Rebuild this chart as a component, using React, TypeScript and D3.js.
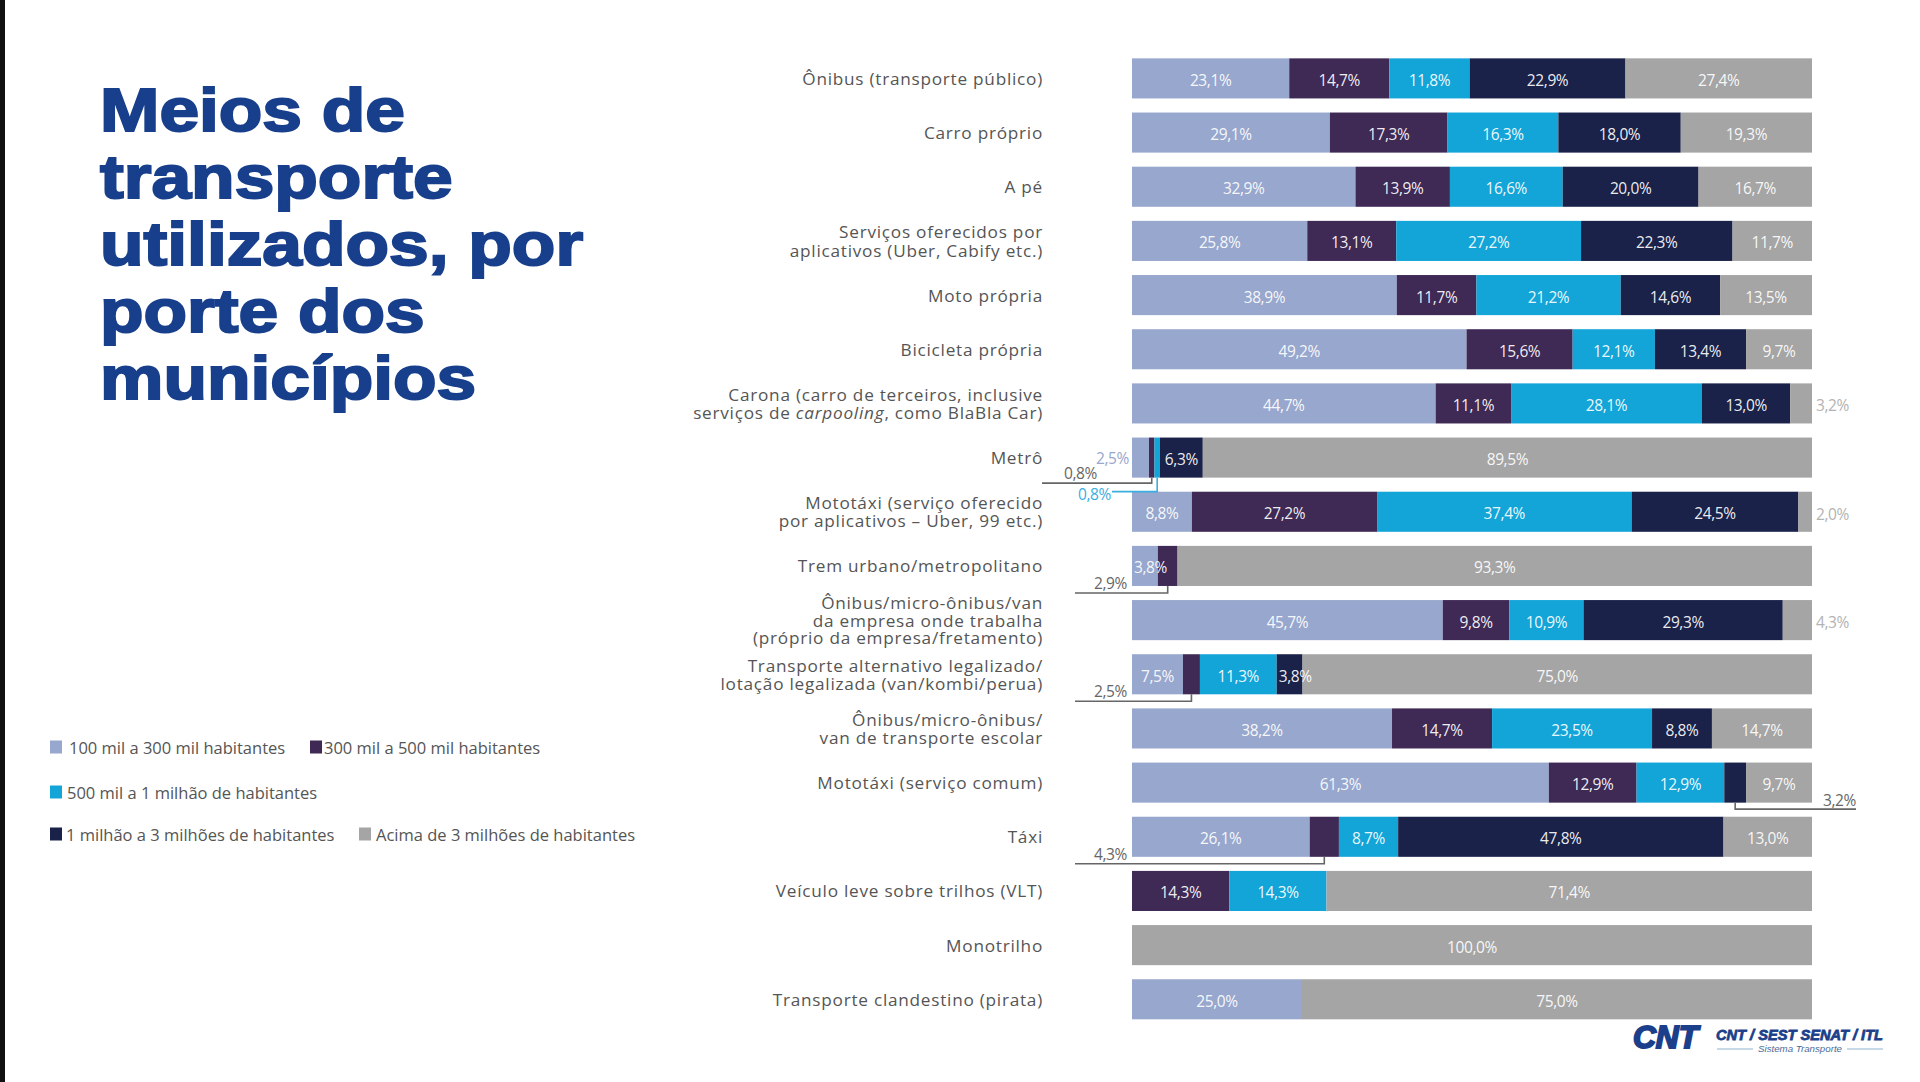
import React from "react";
import * as d3 from "d3";

const categories = [
  "Ônibus (transporte público)",
  "Carro próprio",
  "A pé",
  "Serviços oferecidos por aplicativos",
  "Moto própria",
  "Bicicleta própria",
  "Carona",
  "Metrô",
  "Mototáxi (aplicativos)",
  "Trem urbano/metropolitano",
  "Ônibus da empresa",
  "Transporte alternativo legalizado",
  "Ônibus escolar",
  "Mototáxi (serviço comum)",
  "Táxi",
  "VLT",
  "Monotrilho",
  "Transporte clandestino (pirata)",
];

const categoryLines: string[][] = [
  ["Ônibus (transporte público)"],
  ["Carro próprio"],
  ["A pé"],
  ["Serviços oferecidos por", "aplicativos (Uber, Cabify etc.)"],
  ["Moto própria"],
  ["Bicicleta própria"],
  ["Carona (carro de terceiros, inclusive", "serviços de *carpooling*, como BlaBla Car)"],
  ["Metrô"],
  ["Mototáxi (serviço oferecido", "por aplicativos – Uber, 99 etc.)"],
  ["Trem urbano/metropolitano"],
  ["Ônibus/micro-ônibus/van", "da empresa onde trabalha", "(próprio da empresa/fretamento)"],
  ["Transporte alternativo legalizado/", "lotação legalizada (van/kombi/perua)"],
  ["Ônibus/micro-ônibus/", "van de transporte escolar"],
  ["Mototáxi (serviço comum)"],
  ["Táxi"],
  ["Veículo leve sobre trilhos (VLT)"],
  ["Monotrilho"],
  ["Transporte clandestino (pirata)"],
];

const seriesNames = [
  "100 mil a 300 mil habitantes",
  "300 mil a 500 mil habitantes",
  "500 mil a 1 milhão de habitantes",
  "1 milhão a 3 milhões de habitantes",
  "Acima de 3 milhões de habitantes",
];
const seriesColors = ["#98a7cd", "#3f2a56", "#14a5d8", "#1b2249", "#a5a5a5"];

const s100a300 = [23.1, 29.1, 32.9, 25.8, 38.9, 49.2, 44.7, 2.5, 8.8, 3.8, 45.7, 7.5, 38.2, 61.3, 26.1, 0, 0, 25.0];
const s300a500 = [14.7, 17.3, 13.9, 13.1, 11.7, 15.6, 11.1, 0.8, 27.2, 2.9, 9.8, 2.5, 14.7, 12.9, 4.3, 14.3, 0, 0];
const s500a1m = [11.8, 16.3, 16.6, 27.2, 21.2, 12.1, 28.1, 0.8, 37.4, 0, 10.9, 11.3, 23.5, 12.9, 8.7, 14.3, 0, 0];
const s1ma3m = [22.9, 18.0, 20.0, 22.3, 14.6, 13.4, 13.0, 6.3, 24.5, 0, 29.3, 3.8, 8.8, 3.2, 47.8, 0, 0, 0];
const sAcima3m = [27.4, 19.3, 16.7, 11.7, 13.5, 9.7, 3.2, 89.5, 2.0, 93.3, 4.3, 75.0, 14.7, 9.7, 13.0, 71.4, 100.0, 75.0];

const seriesValues = [s100a300, s300a500, s500a1m, s1ma3m, sAcima3m];

// labels placed outside their segment
const outsideLabels = [
  { cat: "Carona", series: 4, kind: "end" },
  { cat: "Mototáxi (aplicativos)", series: 4, kind: "end" },
  { cat: "Ônibus da empresa", series: 4, kind: "end" },
  { cat: "Metrô", series: 0, kind: "before" },
  { cat: "Metrô", series: 1, kind: "leaderFar" },
  { cat: "Metrô", series: 2, kind: "leaderBelow" },
  { cat: "Trem urbano/metropolitano", series: 1, kind: "leader" },
  { cat: "Transporte alternativo legalizado", series: 1, kind: "leader" },
  { cat: "Táxi", series: 1, kind: "leader" },
  { cat: "Mototáxi (serviço comum)", series: 3, kind: "leaderRight" },
];

const titleLines = ["Meios de", "transporte", "utilizados, por", "porte dos", "municípios"];

const W = 1920;
const H = 1082;
const keys = ["k0", "k1", "k2", "k3", "k4"];
const fmt = (v: number) => d3.format(".1f")(v).replace(".", ",") + "%";
const LABEL_FONT = "'Open Sans', 'Noto Sans', sans-serif";

function renderLine(line: string) {
  const parts = line.split("*");
  return parts.map((p, i) => (
    <tspan key={i} fontStyle={i % 2 === 1 ? "italic" : "normal"}>
      {p}
    </tspan>
  ));
}

export default function App() {
  const rows = categories.map((c, i) => {
    const r: any = { cat: c };
    keys.forEach((k, j) => (r[k] = seriesValues[j][i]));
    return r;
  });
  const stacked = d3.stack<any>().keys(keys).offset(d3.stackOffsetExpand)(rows);

  const x = d3.scaleLinear().domain([0, 1]).range([1132, 1812]);
  const step = 54.17;
  const y = d3
    .scaleBand<string>()
    .domain(categories)
    .range([78.4 - step / 2, 78.4 - step / 2 + step * categories.length])
    .paddingInner(0.26)
    .paddingOuter(0.13);
  const bw = y.bandwidth();

  const isOutside = (cat: string, s: number) => outsideLabels.some((o) => o.cat === cat && o.series === s);

  const segs: JSX.Element[] = [];
  const labels: JSX.Element[] = [];
  stacked.forEach((layer, si) => {
    layer.forEach((d, ci) => {
      const cat = categories[ci];
      const v = seriesValues[si][ci];
      if (!v) return;
      const x0 = x(d[0]);
      const x1 = x(d[1]);
      const y0 = y(cat)!;
      segs.push(
        <rect key={`r${si}-${ci}`} x={x0} y={y0} width={Math.max(0, x1 - x0)} height={bw} fill={seriesColors[si]} />
      );
      if (isOutside(cat, si)) return;
      const txt = fmt(v);
      const tw = txt.length * 8.2;
      const fits = x1 - x0 >= tw + 2;
      labels.push(
        <text
          key={`t${si}-${ci}`}
          x={fits ? (x0 + x1) / 2 : x0 + 2}
          y={y0 + bw / 2 + 1.5}
          textAnchor={fits ? "middle" : "start"}
          dominantBaseline="central"
          fontFamily={LABEL_FONT}
          fontSize={15.5}
          letterSpacing={-0.4}
          fill="#ffffff"
          fillOpacity={0.93}
        >
          {txt}
        </text>
      );
    });
  });

  const callouts = outsideLabels.map((o, i) => {
    const ci = categories.indexOf(o.cat);
    const d = stacked[o.series][ci];
    const v = seriesValues[o.series][ci];
    const txt = fmt(v);
    const y0 = y(o.cat)!;
    const yc = y0 + bw / 2;
    const bottom = y0 + bw;
    const cx = (x(d[0]) + x(d[1])) / 2;
    const common = { fontFamily: LABEL_FONT, fontSize: 15.5, letterSpacing: -0.4 } as any;
    const grey = "#666666";
    if (o.kind === "end") {
      return (
        <text key={i} x={x(1) + 4} y={yc + 2} dominantBaseline="central" fill="#b3b3b3" {...common}>
          {txt}
        </text>
      );
    }
    if (o.kind === "before") {
      return (
        <text key={i} x={x(0) - 3} y={yc} textAnchor="end" dominantBaseline="central" fill={seriesColors[o.series]} {...common}>
          {txt}
        </text>
      );
    }
    if (o.kind === "leader" || o.kind === "leaderFar") {
      const far = o.kind === "leaderFar";
      const ly = bottom + (far ? 5.5 : 7);
      const lx = x(0) - (far ? 90 : 57);
      const tx = far ? x(0) - 35 : x(0) - 5;
      return (
        <g key={i}>
          <path d={`M${lx},${ly}H${cx}V${bottom}`} fill="none" stroke={grey} strokeWidth={1.6} />
          <text x={tx} y={ly - 10} textAnchor="end" dominantBaseline="central" fill={grey} {...common}>
            {txt}
          </text>
        </g>
      );
    }
    if (o.kind === "leaderBelow") {
      const ly = bottom + 14;
      const lx = x(0) - 20;
      const col = "#3aaedf";
      return (
        <g key={i}>
          <path d={`M${lx},${ly}H${cx}V${bottom}`} fill="none" stroke={col} strokeWidth={1.6} />
          <text x={lx - 1} y={ly + 2} textAnchor="end" dominantBaseline="central" fill={col} {...common}>
            {txt}
          </text>
        </g>
      );
    }
    // leaderRight
    const ly = bottom + 6.5;
    const ex = x(1) + 44;
    return (
      <g key={i}>
        <path d={`M${cx},${bottom}V${ly}H${ex}`} fill="none" stroke={grey} strokeWidth={1.6} />
        <text x={ex} y={ly - 9} textAnchor="end" dominantBaseline="central" fill={grey} {...common}>
          {txt}
        </text>
      </g>
    );
  });

  const catLabels = categories.map((c, i) => {
    const lines = categoryLines[i];
    const lh = lines.length > 2 ? 17.3 : 18.2;
    const yc = y(c)! + bw / 2;
    const start = yc - ((lines.length - 1) * lh) / 2;
    return (
      <text
        key={c}
        x={1043}
        textAnchor="end"
        fontFamily={LABEL_FONT}
        fontSize={17.2}
        letterSpacing={0.75}
        fill="#555555"
      >
        {lines.map((l, li) => (
          <tspan key={li} x={1043} y={start + li * lh} dominantBaseline="central">
            {renderLine(l)}
          </tspan>
        ))}
      </text>
    );
  });

  const legendLayout = [
    { s: 0, x: 50, y: 747, tx: 69 },
    { s: 1, x: 310, y: 747, tx: 324 },
    { s: 2, x: 50, y: 792, tx: 67 },
    { s: 3, x: 50, y: 834, tx: 66 },
    { s: 4, x: 359, y: 834, tx: 376 },
  ];

  return (
    <svg
      width={W}
      height={H}
      viewBox={`0 0 ${W} ${H}`}
      style={{ position: "absolute", left: 0, top: 0, background: "#ffffff" }}
    >
      <rect x={0} y={0} width={W} height={H} fill="#ffffff" />
      <rect x={0} y={0} width={5} height={H} fill="#111111" />

      {titleLines.map((t, i) => (
        <text
          key={i}
          transform={`translate(100,${131 + i * 67}) scale(1.15,1)`}
          fontFamily="'Liberation Sans', Arial, sans-serif"
          fontWeight={700}
          fontSize={62}
          fill="#183f8c"
          stroke="#183f8c"
          strokeWidth={2}
        >
          {t}
        </text>
      ))}

      {legendLayout.map((l) => (
        <g key={l.s}>
          <rect x={l.x} y={l.y - 6.5} width={12} height={13} fill={seriesColors[l.s]} />
          <text x={l.tx} y={l.y} dominantBaseline="central" fontFamily={LABEL_FONT} fontSize={16.5} fill="#555555">
            {seriesNames[l.s]}
          </text>
        </g>
      ))}

      {catLabels}
      <g>{segs}</g>
      <g>{labels}</g>
      <g>{callouts}</g>

      <g fill="#1b3f8a">
        <text
          x={1633}
          y={1048}
          fontFamily="'Liberation Sans', Arial, sans-serif"
          fontWeight={700}
          fontStyle="italic"
          fontSize={32}
          stroke="#1b3f8a"
          strokeWidth={2}
          textLength={65}
          lengthAdjust="spacingAndGlyphs"
        >
          CNT
        </text>
        <text
          x={1716}
          y={1040}
          fontFamily="'Liberation Sans', Arial, sans-serif"
          fontWeight={700}
          fontStyle="italic"
          fontSize={15}
          stroke="#1b3f8a"
          strokeWidth={0.8}
          textLength={167}
          lengthAdjust="spacingAndGlyphs"
        >
          CNT / SEST SENAT / ITL
        </text>
        <text
          x={1758}
          y={1052}
          fontFamily="'Liberation Sans', Arial, sans-serif"
          fontStyle="italic"
          fontSize={9}
          fill="#4a6b98"
          textLength={84}
          lengthAdjust="spacingAndGlyphs"
        >
          Sistema Transporte
        </text>
        <line x1={1717} x2={1753} y1={1049} y2={1049} stroke="#8fb3cf" strokeWidth={1} />
        <line x1={1847} x2={1883} y1={1049} y2={1049} stroke="#8fb3cf" strokeWidth={1} />
      </g>
    </svg>
  );
}
